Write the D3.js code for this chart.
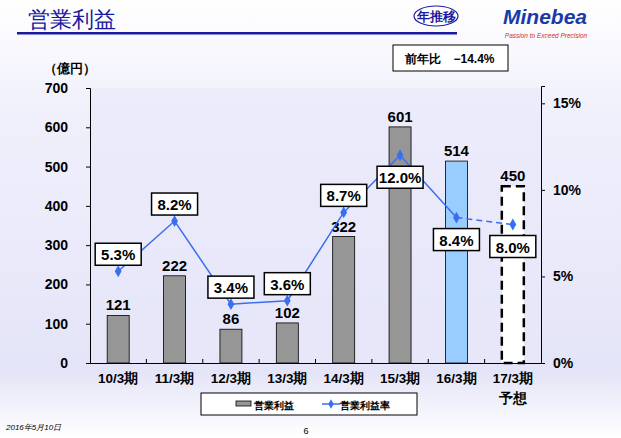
<!DOCTYPE html><html><head><meta charset="utf-8"><script src="https://cdn.jsdelivr.net/npm/d3@7"></script>
<style>body{margin:0}svg{display:block}text{font-family:"Liberation Sans",Arial,sans-serif}</style></head><body>
<script>
const categories=["10/3期","11/3期","12/3期","13/3期","14/3期","15/3期","16/3期","17/3期"];
const profit=[121,222,86,102,322,601,514,450];
const rate=[5.3,8.2,3.4,3.6,8.7,12.0,8.4,8.0];
const leftTicks=[0,100,200,300,400,500,600,700];
const rightTicks=[0,5,10,15];
const W=621,H=438;
const svg=d3.select("body").append("svg").attr("width",W).attr("height",H);
const defs=svg.append("defs");
const g1=defs.append("linearGradient").attr("id","bg").attr("x1",0).attr("x2",0).attr("y1",0).attr("y2",1);
g1.append("stop").attr("offset","0").attr("stop-color","#ffffff");
g1.append("stop").attr("offset","0.25").attr("stop-color","#f0f0fc");
g1.append("stop").attr("offset","0.85").attr("stop-color","#e4e4f8");
g1.append("stop").attr("offset","1").attr("stop-color","#ffffff");
svg.append("rect").attr("width",W).attr("height",H).attr("fill","url(#bg)");
// header
svg.append("text").attr("x",28).attr("y",27).attr("font-size",22).attr("fill","#1a1aa0").attr("font-family","Noto Sans CJK JP").text("営業利益");
svg.append("rect").attr("x",17).attr("y",32).attr("width",440).attr("height",2.5).attr("fill","#1a1aa0");
svg.append("ellipse").attr("cx",436).attr("cy",16).attr("rx",22).attr("ry",10).attr("fill","#fff").attr("stroke","#1a1aa0").attr("stroke-width",1.2);
svg.append("text").attr("x",436).attr("y",21).attr("text-anchor","middle").attr("font-size",13).attr("font-weight","bold").attr("fill","#1a1aa0").attr("font-family","Noto Sans CJK JP").text("年推移");
svg.append("text").attr("x",545).attr("y",24).attr("text-anchor","middle").attr("font-size",21).attr("font-weight","bold").attr("font-style","italic").attr("fill","#1a3aa8").text("Minebea");
svg.append("text").attr("x",546).attr("y",38).attr("text-anchor","middle").attr("font-size",6.5).attr("font-style","italic").attr("fill","#d03020").text("Passion to Exceed Precision");
svg.append("rect").attr("x",393).attr("y",45).attr("width",115).attr("height",26).attr("fill","#fff").attr("stroke","#000");
svg.append("text").attr("x",450).attr("y",63).attr("text-anchor","middle").attr("font-size",12).attr("font-weight","bold").attr("font-family","Noto Sans CJK JP").text("前年比　−14.4%");
// scales
const x=d3.scaleBand().domain(categories).range([90,541]);
const y=d3.scaleLinear().domain([0,700]).range([363,88]);
const y2=d3.scaleLinear().domain([0,16]).range([363,86]);
svg.append("rect").attr("x",90).attr("y",88).attr("width",451).attr("height",275).attr("fill","#e8e8fa").attr("opacity",0.6);
const la=svg.append("g").attr("transform","translate(90,0)").call(d3.axisLeft(y).tickValues(leftTicks).tickSize(4).tickPadding(18));
const ra=svg.append("g").attr("transform","translate(541,0)").call(d3.axisRight(y2).tickValues(rightTicks).tickFormat(d=>d+"%").tickSize(4).tickPadding(8));
const ba=svg.append("g").attr("transform","translate(0,363)").call(d3.axisBottom(x).tickSize(0).tickPadding(10));
[la,ra,ba].forEach(a=>{a.selectAll("text").attr("font-size",14).attr("font-weight","bold").attr("fill","#000").attr("font-family","Noto Sans CJK JP");a.select(".domain").attr("stroke","#000");a.selectAll("line").attr("stroke","#000");});
ba.selectAll("text").attr("font-size",13.5);
svg.append("g").selectAll("line").data(categories.slice(1)).join("line").attr("x1",d=>x(d)).attr("x2",d=>x(d)).attr("y1",363).attr("y2",359).attr("stroke","#000");
svg.append("text").attr("x",x(categories[7])+x.bandwidth()/2).attr("y",403).attr("text-anchor","middle").attr("font-size",13.5).attr("font-weight","bold").attr("font-family","Noto Sans CJK JP").text("予想");
svg.append("text").attr("x",70).attr("y",73).attr("text-anchor","middle").attr("font-size",13).attr("font-weight","bold").attr("font-family","Noto Sans CJK JP").text("（億円）");
// bars
const bw=22;
svg.append("g").selectAll("rect").data(profit).join("rect")
 .attr("x",(d,i)=>x(categories[i])+x.bandwidth()/2-bw/2).attr("y",d=>y(d)).attr("width",bw).attr("height",d=>363-y(d))
 .attr("fill",(d,i)=>i==6?"#99ccff":i==7?"#fff":"#969696")
 .attr("stroke","#000").attr("stroke-width",(d,i)=>i==7?2.5:0.8).attr("stroke-dasharray",(d,i)=>i==7?"9,5":null);
svg.append("g").selectAll("text").data(profit).join("text")
 .attr("x",(d,i)=>x(categories[i])+x.bandwidth()/2).attr("y",d=>y(d)-5).attr("text-anchor","middle")
 .attr("font-size",15).attr("font-weight","bold").text(d=>d);
// line
const px=i=>x(categories[i])+x.bandwidth()/2;
const line=d3.line().x((d,i)=>px(i)).y(d=>y2(d));
svg.append("path").attr("d",line(rate.slice(0,7))).attr("fill","none").attr("stroke","#3a6ef0").attr("stroke-width",1.5);
svg.append("line").attr("x1",px(6)).attr("y1",y2(rate[6])).attr("x2",px(7)).attr("y2",y2(rate[7])).attr("stroke","#3a6ef0").attr("stroke-width",1.5).attr("stroke-dasharray","6,4");
svg.append("g").selectAll("path").data(rate).join("path").attr("d",d3.symbol(d3.symbolDiamond,40)).attr("transform",(d,i)=>`translate(${px(i)},${y2(d)})`).attr("fill","#3a6ef0");
const off=[-17,-17,-17,-17,-17,22,22,22];
const lg=svg.append("g").selectAll("g").data(rate).join("g").attr("transform",(d,i)=>`translate(${px(i)},${y2(d)+off[i]})`);
lg.append("rect").attr("x",-23).attr("y",-11).attr("width",46).attr("height",22).attr("fill","#fff").attr("stroke","#000").attr("stroke-width",1.5);
lg.append("text").attr("text-anchor","middle").attr("y",6).attr("font-size",15).attr("font-weight","bold").text(d=>d.toFixed(1)+"%");
// legend
svg.append("rect").attr("x",201).attr("y",393).attr("width",216).attr("height",22).attr("fill","#fff").attr("stroke","#000");
svg.append("rect").attr("x",236).attr("y",401).attr("width",15).attr("height",5).attr("fill","#969696").attr("stroke","#000").attr("stroke-width",0.8);
svg.append("text").attr("x",254).attr("y",409).attr("font-size",10).attr("font-weight","bold").attr("font-family","Noto Sans CJK JP").text("営業利益");
svg.append("line").attr("x1",322).attr("x2",340).attr("y1",404).attr("y2",404).attr("stroke","#3a6ef0").attr("stroke-width",1.5);
svg.append("path").attr("d",d3.symbol(d3.symbolDiamond,25)).attr("transform","translate(331,404)").attr("fill","#3a6ef0");
svg.append("text").attr("x",340).attr("y",409).attr("font-size",10).attr("font-weight","bold").attr("font-family","Noto Sans CJK JP").text("営業利益率");
svg.append("text").attr("x",6).attr("y",430).attr("font-size",8).attr("font-style","italic").text("2016年5月10日");
svg.append("text").attr("x",306).attr("y",434).attr("text-anchor","middle").attr("font-size",9).text("6");
</script></body></html>
